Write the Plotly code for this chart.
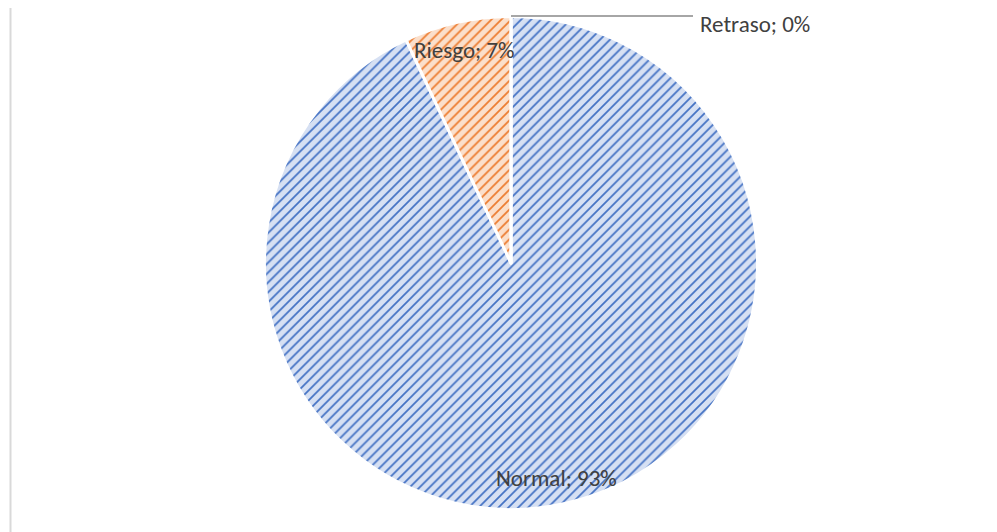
import plotly.graph_objects as go

categories = ["Normal", "Riesgo", "Retraso"]
values = [93, 7, 0]
fg_colors = ["#4472c4", "#ed7d31", "#a5a5a5"]
bg_colors = ["#d6e0f3", "#fbdfcb", "#ededed"]

W, H = 997, 532
OFF = 8  # page body margin
cx, cy, r = 511 - OFF, 263 - OFF, 246.5

fig = go.Figure()
fig.add_trace(go.Pie(
    labels=categories,
    values=values,
    sort=False,
    direction="clockwise",
    rotation=0,
    textinfo="none",
    showlegend=False,
    marker=dict(
        colors=bg_colors,
        line=dict(color="white", width=3),
        pattern=dict(shape="/", fgcolor=fg_colors, bgcolor=bg_colors,
                     size=7, solidity=0.25, fillmode="replace"),
    ),
    domain=dict(x=[(cx - r) / W, (cx + r) / W], y=[1 - (cy + r) / H, 1 - (cy - r) / H]),
))

label_font = dict(family="Carlito, Lato, Liberation Sans, sans-serif", size=23, color="#404040")
pos = {"Normal": (556, 478, "middle"), "Riesgo": (464, 50, "middle"), "Retraso": (755, 8, "top")}
for c, v in zip(categories, values):
    x, y, ya = pos[c]
    fig.add_annotation(x=(x - OFF) / W, y=1 - (y - OFF) / H, xref="paper", yref="paper",
                       text=f"{c}; {v}%", showarrow=False, font=label_font,
                       xanchor="center", yanchor=ya)

# leader line for the zero slice
fig.add_shape(type="line", xref="paper", yref="paper",
              x0=(511 - OFF) / W, x1=(693 - OFF) / W,
              y0=1 - (16 - OFF) / H, y1=1 - (16 - OFF) / H,
              line=dict(color="#a6a6a6", width=2))
# left frame border
fig.add_shape(type="line", xref="paper", yref="paper",
              x0=(10.5 - OFF) / W, x1=(10.5 - OFF) / W, y0=0, y1=1,
              line=dict(color="#d9d9d9", width=2))

fig.update_layout(
    width=W, height=H,
    margin=dict(l=0, r=0, t=0, b=0),
    paper_bgcolor="white", plot_bgcolor="white",
)
fig.write_html("out.html")
